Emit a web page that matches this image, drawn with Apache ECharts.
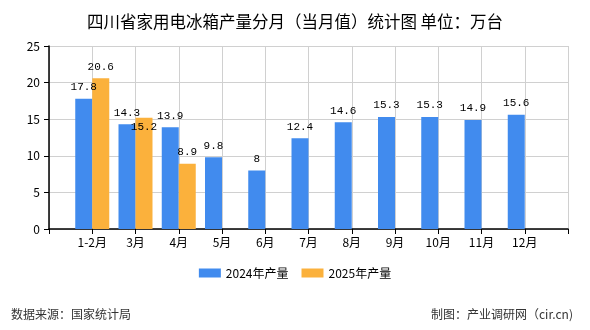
<!DOCTYPE html>
<html><head><meta charset="utf-8">
<script src="https://cdn.jsdelivr.net/npm/echarts@6/dist/echarts.min.js"></script>
<style>html,body{margin:0;padding:0;background:#fff}#c{width:590px;height:330px}</style>
</head><body><div id="c"></div>
<script>
const categories = ['', '1-2月', '3月', '4月', '5月', '6月', '7月', '8月', '9月', '10月', '11月', '12月', ''];
const values2024 = [null, 17.8, 14.3, 13.9, 9.8, 8, 12.4, 14.6, 15.3, 15.3, 14.9, 15.6, null];
const values2025 = [null, 20.6, 15.2, 8.9, null, null, null, null, null, null, null, null, null];
const yTicks = [0, 5, 10, 15, 20, 25];

const chart = echarts.init(document.getElementById('c'));
const cjk = '"Noto Sans CJK SC", sans-serif';
const mono = '"Liberation Mono", "DejaVu Sans Mono", monospace';
const labelBase = { show: true, position: 'top', distance: 6, color: '#000', fontFamily: mono, fontSize: 11 };
chart.setOption({
  animation: false,
  title: {
    text: '四川省家用电冰箱产量分月（当月值）统计图 单位：万台',
    left: 'center', top: 8,
    textStyle: { fontFamily: cjk, fontSize: 16.5, fontWeight: 'normal', color: '#000' }
  },
  legend: {
    bottom: 46, left: 'center', itemWidth: 22, itemHeight: 9, itemGap: 13,
    icon: 'rect',
    textStyle: { fontFamily: cjk, fontSize: 12, color: '#000' },
    data: ['2024年产量', '2025年产量']
  },
  graphic: [
    { type: 'text', left: 11, top: 308, style: { text: '数据来源：国家统计局', font: '12px ' + cjk, fill: '#333' } },
    { type: 'text', right: 17, top: 308, style: { text: '制图：产业调研网（cir.cn)', font: '12px ' + cjk, fill: '#333' } }
  ],
  grid: { left: 49, right: 22, top: 46, bottom: 101, containLabel: false },
  xAxis: {
    type: 'category', data: categories, boundaryGap: false,
    axisLine: { lineStyle: { color: '#000', width: 1.5 } },
    axisTick: { show: true, length: 5, lineStyle: { color: '#000' } },
    axisLabel: { color: '#000', fontFamily: cjk, fontSize: 12, margin: 7, interval: 0 },
    splitLine: { show: true, lineStyle: { color: '#d0d0d0' } }
  },
  yAxis: {
    type: 'value', min: yTicks[0], max: yTicks[yTicks.length - 1], interval: 5,
    axisLine: { show: true, lineStyle: { color: '#000', width: 1.5 } },
    axisTick: { show: true, length: 5, lineStyle: { color: '#000' } },
    axisLabel: { color: '#000', fontFamily: cjk, fontSize: 12, margin: 9 },
    splitLine: { show: true, lineStyle: { color: '#d0d0d0' } }
  },
  series: [
    {
      name: '2024年产量', type: 'bar', data: values2024, barWidth: 17, barGap: '0%',
      itemStyle: { color: '#418bee' }, label: labelBase
    },
    {
      name: '2025年产量', type: 'bar', barWidth: 17, barGap: '0%',
      data: values2025.map((v, i) => i === 2 ? { value: v, label: { offset: [0, 21] } } : v),
      itemStyle: { color: '#fbb13c' }, label: labelBase
    }
  ]
});
</script></body></html>
